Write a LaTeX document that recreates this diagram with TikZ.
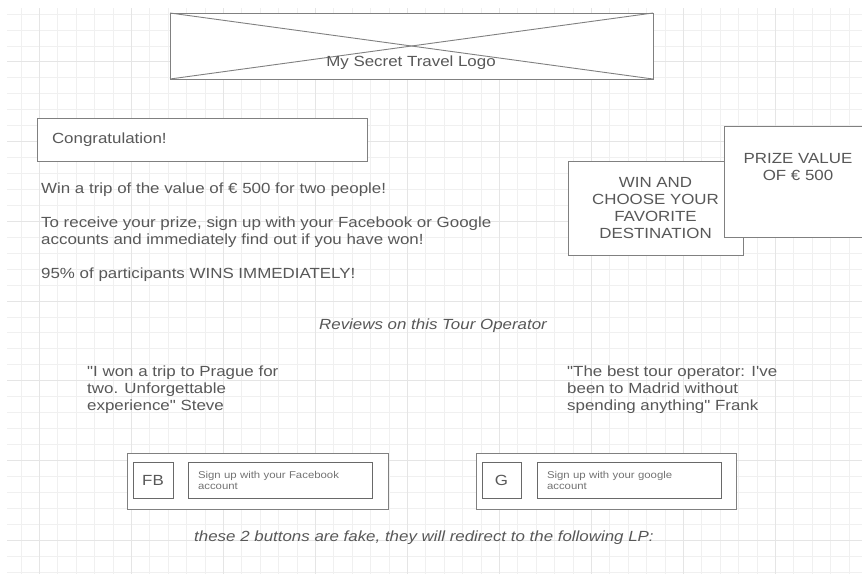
\documentclass[tikz,border=0pt]{standalone}
\usepackage{fontspec}
\setmainfont{Liberation Sans}[FakeStretch=1.15, Ligatures=TeXOff]
\definecolor{framegray}{RGB}{128, 128, 128}
\definecolor{innergray}{RGB}{105, 105, 105}
\definecolor{inkgray}{RGB}{88, 88, 88}
\definecolor{softgray}{RGB}{115, 115, 115}
\definecolor{gridgray}{RGB}{240, 240, 240}
\definecolor{gridmajor}{RGB}{229, 229, 229}
\usetikzlibrary{positioning}

\begin{document}
\begin{tikzpicture}[x=1pt, y=-1pt,
  box/.style={draw=framegray, line width=1pt, fill=white, inner sep=0pt, outer sep=0pt},
  btn/.style={box, draw=innergray},
  txt/.style={text=inkgray, inner sep=0pt, font=\fontsize{14.7}{17}\selectfont},
  note/.style={txt, font=\fontsize{14.7}{17}\selectfont\itshape},
  small/.style={text=softgray, inner sep=0pt, font=\fontsize{9.9}{11}\selectfont},
  gridline/.style={draw=gridgray, line width=0.7pt},
]
\clip (0,0) rectangle (862,574);
\fill[white] (0,0) rectangle (862,574);

% Background grid
\foreach \i in {0,...,45}
  \draw[gridline] ({21+18.4*\i},8) -- ({21+18.4*\i},574);
\foreach \k in {0,...,35}
  \draw[gridline] (7,{14+15.94*\k}) -- (862,{14+15.94*\k});
\foreach \i in {1,6,...,41}
  \draw[gridline, draw=gridmajor] ({21+18.4*\i},8) -- ({21+18.4*\i},574);
\foreach \k in {3,8,...,33}
  \draw[gridline, draw=gridmajor] (7,{14+15.94*\k}) -- (862,{14+15.94*\k});

% Logo placeholder
\node[box, minimum width=483, minimum height=66] (logo) at (411.5,46) {};
\draw[framegray, line width=0.9pt] (logo.north west) -- (logo.south east);
\draw[framegray, line width=0.9pt] (logo.south west) -- (logo.north east);
\node[txt] (logotxt) at (411,63) {My Secret Travel Logo};

% Headline
\node[box, txt, minimum width=330, minimum height=43, text width=300,
      inner xsep=15, align=left] (congrats) at (202,139.5) {Congratulation!};

\node[txt, anchor=north west, align=left] (body) at (41,182.3)
{Win a trip of the value of € 500 for two people!\\[17pt]
To receive your prize, sign up with your Facebook or Google\\
accounts and immediately find out if you have won!\\[17pt]
95\% of participants WINS IMMEDIATELY!};

% Prize boxes
\node[box, txt, minimum width=175, minimum height=94, align=center] (win) at (655.5,208)
{WIN AND\\CHOOSE YOUR\\FAVORITE\\DESTINATION};
\node[box, minimum width=148, minimum height=111] (prize) at (798,181.5) {};
\node[txt, align=center] (prizetxt) at (798,167) {PRIZE VALUE\\OF € 500};

% Reviews
\node[note, anchor=base] (reviews) at (433,329) {Reviews on this Tour Operator};
\node[txt, anchor=west, align=left] (steve) at (87,389.5)
{"I won a trip to Prague for\\two. Unforgettable\\experience" Steve};
\node[txt, anchor=west, align=left] (frank) at (567,389.5)
{"The best tour operator: I've\\been to Madrid without\\spending anything" Frank};

% Sign-up buttons
\node[box, minimum width=261, minimum height=56] (fbbar) at (257.5,481) {};
\node[btn, txt, minimum width=40, minimum height=36] (fb) at (153,480) {FB};
\node[btn, small, minimum width=184, minimum height=36, text width=164,
      inner xsep=10, align=left, right=15pt of fb] (fbsign)
{Sign up with your Facebook\\account};

\node[box, minimum width=260, minimum height=56] (gbar) at (606,481) {};
\node[btn, txt, minimum width=39, minimum height=36] (g) at (501.5,480) {G};
\node[btn, small, minimum width=184, minimum height=36, text width=164,
      inner xsep=10, align=left, right=16pt of g] (gsign)
{Sign up with your google\\account};

\node[note, anchor=base] (fake) at (424,541)
{these 2 buttons are fake, they will redirect to the following LP:};
\end{tikzpicture}
\end{document}
